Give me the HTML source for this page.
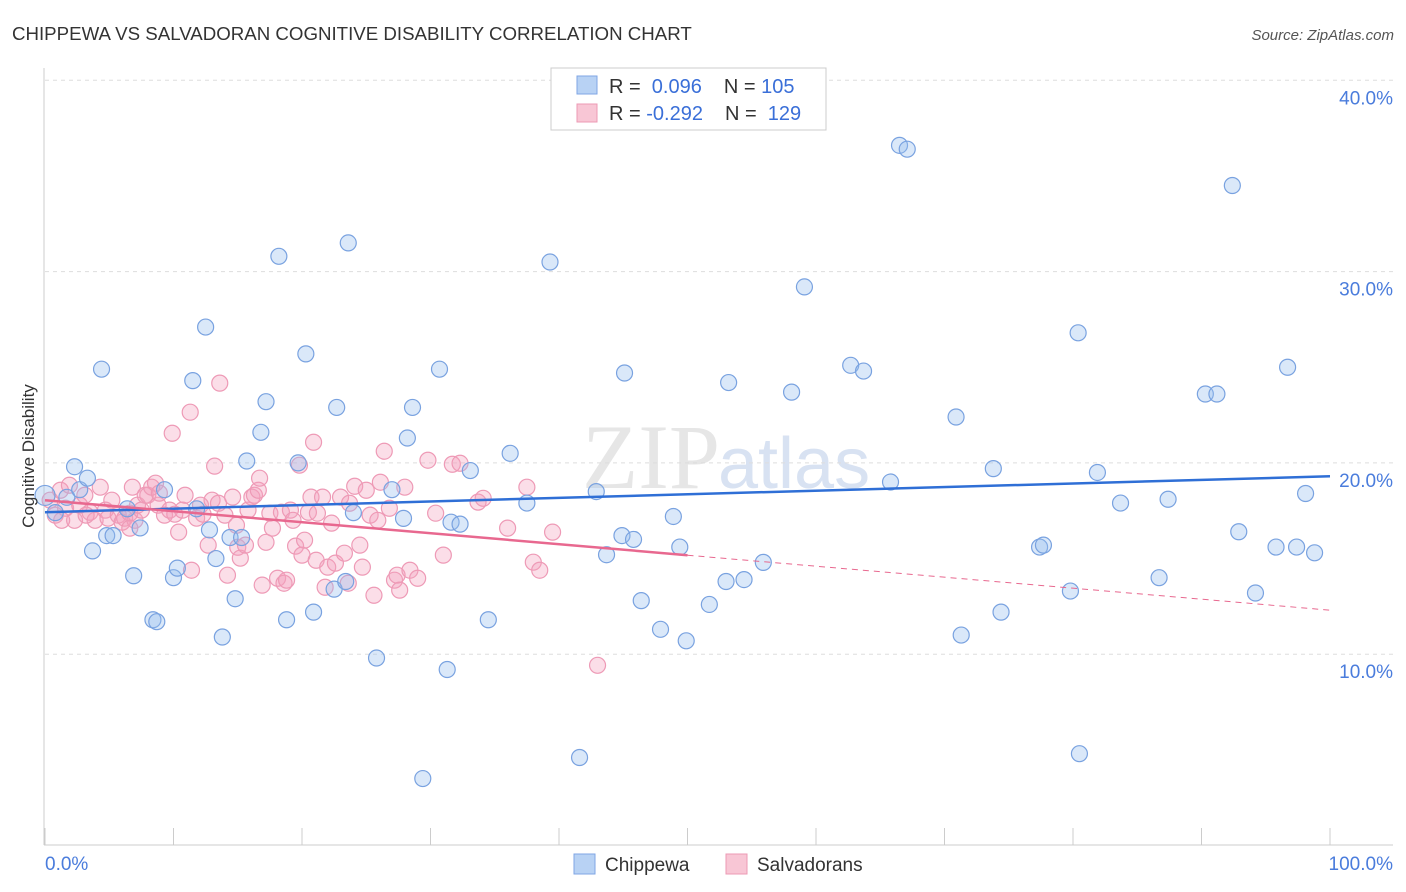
<!DOCTYPE html>
<html><head><meta charset="utf-8">
<style>
body{margin:0;background:#fff;font-family:"Liberation Sans",sans-serif;}
svg{display:block}
</style></head>
<body>
<svg id="chart" width="1406" height="892" viewBox="0 0 1406 892">
<text x="12" y="40" font-size="18.7" fill="#333">CHIPPEWA VS SALVADORAN COGNITIVE DISABILITY CORRELATION CHART</text>
<text x="1394" y="40" font-size="15" fill="#555" font-style="italic" text-anchor="end">Source: ZipAtlas.com</text>
<text x="720" y="488" font-size="92" fill="#e6e6e6" text-anchor="end" font-family="Liberation Serif,serif">ZIP</text>
<text x="718" y="488" font-size="72" fill="#d8e2f2">atlas</text>
<g id="grid"></g>
<g id="axes"></g>
<g id="pinkPts"></g>
<g id="bluePts"></g>
<g id="lines"></g>
<text transform="translate(34,456) rotate(-90)" font-size="17" fill="#333" text-anchor="middle">Cognitive Disability</text>
<g>
<rect x="551" y="68" width="275" height="62" fill="#fff" stroke="#ccc"/>
<rect x="577" y="76" width="20" height="18" fill="#b8d2f4" stroke="#7fa6e4"/>
<rect x="577" y="104" width="20" height="18" fill="#f8c6d5" stroke="#ec9ab4"/>
<text x="609" y="93" font-size="20" fill="#333">R = <tspan fill="#3a6fd8">&#160;0.096</tspan><tspan dx="22">N = </tspan><tspan fill="#3a6fd8">105</tspan></text>
<text x="609" y="120" font-size="20" fill="#333">R = <tspan fill="#3a6fd8">-0.292</tspan><tspan dx="22">N = </tspan><tspan fill="#3a6fd8">&#160;129</tspan></text>
</g>
<g>
<rect x="574" y="854" width="21" height="20" fill="#b8d2f4" stroke="#7fa6e4"/>
<text x="605" y="871" font-size="19" fill="#333">Chippewa</text>
<rect x="726" y="854" width="21" height="20" fill="#f8c6d5" stroke="#ec9ab4"/>
<text x="757" y="871" font-size="19" fill="#333">Salvadorans</text>
</g>
</svg>
<script>
const yTicks=[10,20,30,40];
const yTickLabels=["10.0%","20.0%","30.0%","40.0%"];
const xEndLabels=["0.0%","100.0%"];
const blueX=[0,0.8,1.7,2.3,2.7,3.3,3.7,4.4,4.8,5.3,6.4,6.9,7.4,8.4,8.7,9.3,10.0,10.3,11.5,11.8,12.5,12.8,13.3,13.8,14.4,14.8,15.3,15.7,16.8,17.2,18.2,18.8,19.7,20.3,20.9,22.5,22.7,23.4,23.6,24.0,25.8,27.0,27.9,28.2,28.6,29.4,30.7,31.3,31.6,32.3,33.1,34.5,36.2,37.5,39.3,41.6,42.9,43.7,44.9,45.1,45.8,46.4,47.9,48.9,49.4,49.9,51.7,53.0,53.2,54.4,55.9,58.1,59.1,62.7,63.7,65.8,66.5,67.1,70.9,71.3,73.8,74.4,77.4,77.7,79.8,80.4,80.5,81.9,83.7,86.7,87.4,90.3,91.2,92.4,92.9,94.2,95.8,96.7,97.4,98.1,98.8];
const blueY=[18.3,17.4,18.2,19.8,18.6,19.2,15.4,24.9,16.2,16.2,17.6,14.1,16.6,11.8,11.7,18.6,14.0,14.5,24.3,17.6,27.1,16.5,15.0,10.9,16.1,12.9,16.1,20.1,21.6,23.2,30.8,11.8,20.0,25.7,12.2,13.4,22.9,13.8,31.5,17.4,9.8,18.6,17.1,21.3,22.9,3.5,24.9,9.2,16.9,16.8,19.6,11.8,20.5,17.9,30.5,4.6,18.5,15.2,16.2,24.7,16.0,12.8,11.3,17.2,15.6,10.7,12.6,13.8,24.2,13.9,14.8,23.7,29.2,25.1,24.8,19.0,36.6,36.4,22.4,11.0,19.7,12.2,15.6,15.7,13.3,26.8,4.8,19.5,17.9,14.0,18.1,23.6,23.6,34.5,16.4,13.2,15.6,25.0,15.6,18.4,15.3];
const pinkX=[0.4,0.8,1.2,1.6,1.9,2.3,2.7,3.1,3.5,3.9,4.3,4.7,4.9,5.2,5.7,6.0,6.2,6.6,6.8,7.0,7.2,7.5,7.8,8.0,8.3,8.6,8.8,8.9,9.3,9.7,9.9,10.1,10.4,10.7,10.9,11.3,11.4,11.8,12.1,12.3,12.7,13.0,13.2,13.5,13.6,14.0,14.2,14.6,14.9,15.0,15.2,15.6,15.8,16.1,16.3,16.6,16.7,16.9,17.2,17.5,17.7,18.1,18.4,18.6,18.8,19.1,19.3,19.5,19.8,20.0,20.2,20.5,20.7,20.9,21.1,21.2,21.6,21.8,22.0,22.3,22.6,23.0,23.3,23.6,23.7,24.1,24.5,24.7,25.0,25.3,25.6,25.9,26.1,26.4,26.8,27.2,27.4,27.6,28.0,28.4,29.0,29.8,30.4,31.0,31.7,32.3,33.7,34.1,36.0,37.5,38.0,38.5,39.5,43.0,6.6,3.2,1.3];
const pinkY=[18.05,17.27,18.57,17.63,18.83,17.0,17.79,18.31,17.42,17.0,18.73,17.53,17.11,18.05,17.27,16.9,17.11,17.37,18.73,17.0,17.79,17.53,18.31,18.31,18.73,18.94,17.79,18.42,17.27,17.53,21.55,17.32,16.38,17.53,18.31,22.65,14.39,17.11,17.79,17.32,15.70,18.05,19.83,17.89,24.17,17.27,14.13,18.21,16.74,15.59,15.02,15.70,17.53,18.21,18.31,18.57,19.2,13.61,15.85,17.37,16.59,13.97,17.42,13.71,13.87,17.53,17.0,15.65,19.88,15.18,15.96,17.42,18.21,21.08,14.91,17.37,18.21,13.5,14.55,16.85,14.76,18.21,15.28,13.71,17.89,18.78,15.70,14.55,18.57,17.27,13.08,17.0,18.99,20.61,17.63,13.87,14.13,13.35,18.73,14.39,13.97,20.14,17.37,15.18,19.93,19.98,17.95,18.15,16.59,18.73,14.81,14.39,16.38,9.42,16.59,17.27,17.0];
const blueTrend=[17.42,19.3];
const pinkTrend=[18.05,12.3];
const pinkSolidEnd=50;

const NS="http://www.w3.org/2000/svg";
const X0=45,X1=1330,Y0=845.5,YPER=19.13;
function sx(v){return X0+(X1-X0)*v/100;}
function sy(v){return Y0-v*YPER;}
function mk(tag,attrs,parent){const e=document.createElementNS(NS,tag);for(const k in attrs)e.setAttribute(k,attrs[k]);parent.appendChild(e);return e;}
const grid=document.getElementById('grid'),axes=document.getElementById('axes');
yTicks.forEach((t,i)=>{
 const l=mk('line',{x1:45,x2:1393,y1:sy(t),y2:sy(t),stroke:'#ddd','stroke-dasharray':'4,4'},grid);
 
 
 const tx=mk('text',{x:1393,y:sy(t)+24,'font-size':19,fill:'#4a7cdc','text-anchor':'end'},axes);
 tx.textContent=yTickLabels[i];
 
 
});
const ya=mk('line',{x1:44,x2:44,y1:68,y2:845,stroke:'#ccc'},axes);


const xa=mk('line',{x1:44,x2:1393,y1:845,y2:845,stroke:'#ccc'},axes);


for(let i=0;i<=10;i++){
 const t=mk('line',{x1:sx(i*10),x2:sx(i*10),y1:828,y2:845,stroke:'#ccc'},axes);
 
 
}
[[0,'start',45],[100,'end',1393]].forEach((d,i)=>{
 const t=mk('text',{x:d[2],y:870,'font-size':19,fill:'#4a7cdc','text-anchor':d[1]},axes);
 t.textContent=xEndLabels[i];
 
 
});
const bp=document.getElementById('bluePts'),pp=document.getElementById('pinkPts');
pinkX.forEach((x,i)=>{
 const c=mk('circle',{cx:sx(x),cy:sy(pinkY[i]),r:8,fill:'rgba(244,160,188,0.35)',stroke:'#ee9ab6','stroke-width':1.2},pp);
 
 
});
blueX.forEach((x,i)=>{
 const c=mk('circle',{cx:sx(x),cy:sy(blueY[i]),r:i===0?10:8,fill:'rgba(150,188,238,0.35)',stroke:'#79a2e0','stroke-width':1.2},bp);
 
 
});
const lg=document.getElementById('lines');
const bl=mk('line',{x1:sx(0),y1:sy(blueTrend[0]),x2:sx(100),y2:sy(blueTrend[1]),stroke:'#2f6fd6','stroke-width':2.5},lg);


const pm=pinkTrend[0]+(pinkTrend[1]-pinkTrend[0])*pinkSolidEnd/100;
const pl=mk('line',{x1:sx(0),y1:sy(pinkTrend[0]),x2:sx(pinkSolidEnd),y2:sy(pm),stroke:'#e8688f','stroke-width':2.5},lg);


const pd=mk('line',{x1:sx(pinkSolidEnd),y1:sy(pm),x2:sx(100),y2:sy(pinkTrend[1]),stroke:'#e8688f','stroke-width':1,'stroke-dasharray':'6,5'},lg);


</script>
</body></html>
